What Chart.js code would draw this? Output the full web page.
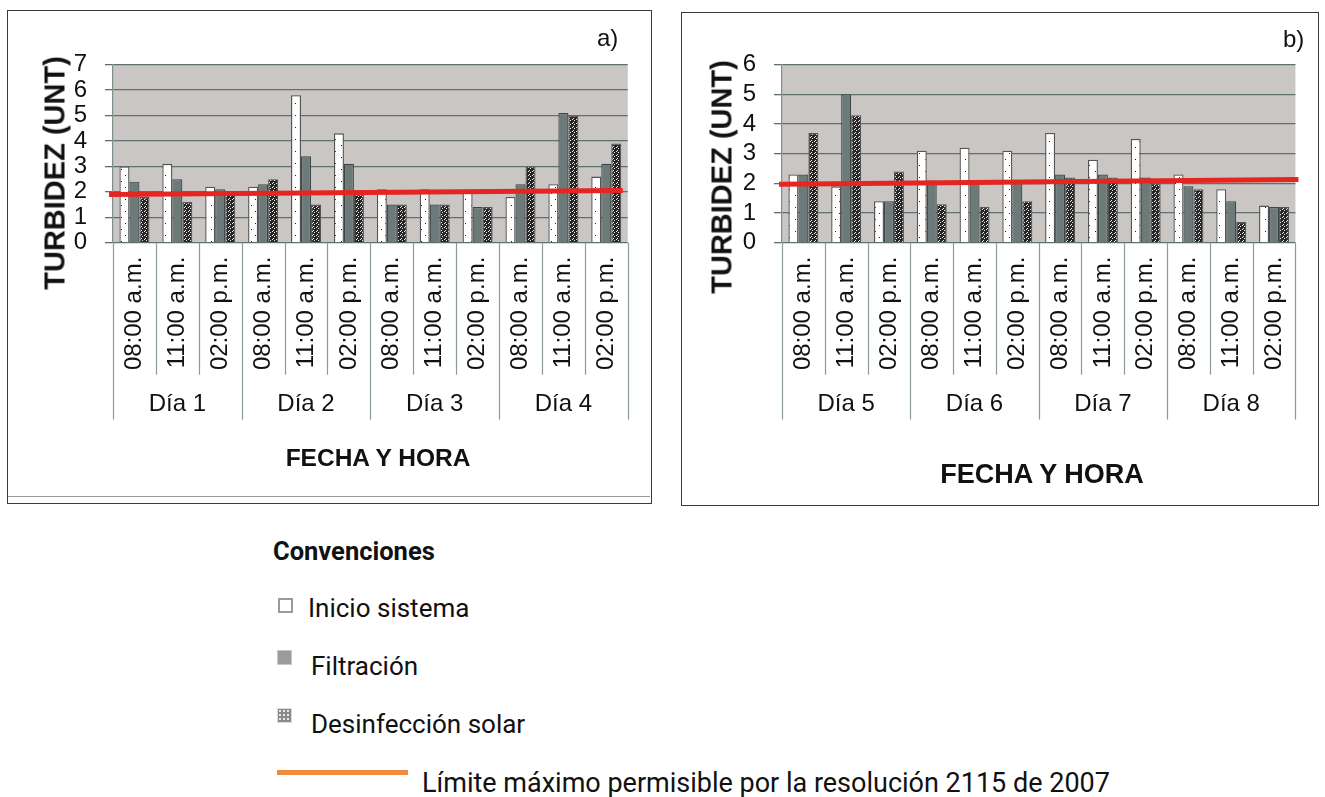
<!DOCTYPE html>
<html><head><meta charset="utf-8">
<script src="https://cdn.jsdelivr.net/npm/chart.js@4.4.0/dist/chart.umd.min.js"></script>
<style>
body{margin:0;background:#fff;}
#wrap{position:relative;width:1325px;height:797px;overflow:hidden;font-family:"Liberation Sans",Arial,sans-serif;color:#111;}
.box{position:absolute;border:1.5px solid #3a3a3a;box-sizing:border-box;}
.abs{position:absolute;white-space:nowrap;}
.ytitle{position:absolute;white-space:nowrap;font-weight:bold;font-size:29px;transform:translate(-50%,-50%) rotate(-90deg);line-height:1;}
.xtitle{position:absolute;white-space:nowrap;font-weight:bold;transform:translate(-50%,-50%);line-height:1;}
.leg{position:absolute;white-space:nowrap;font-family:Roboto,"Noto Sans",sans-serif;font-size:26px;line-height:30px;color:#111;}
canvas{position:absolute;}
</style></head><body>
<div id="wrap">
  <div class="box" style="left:7px;top:10px;width:645px;height:494px;"></div>
  <div class="abs" style="left:8px;top:496px;width:642px;height:1px;background:#9a9a9a;"></div>
  <div class="box" style="left:681px;top:12px;width:638px;height:494px;"></div>
  <canvas id="ca" width="642" height="485" style="left:8px;top:11px;"></canvas>
  <canvas id="cb" width="635" height="491" style="left:682px;top:13px;"></canvas>
  <div class="abs" style="left:597px;top:24px;font-size:24px;">a)</div>
  <div class="abs" style="left:1283px;top:25px;font-size:24px;">b)</div>
  <div class="ytitle" style="left:55px;top:173px;">TURBIDEZ (UNT)</div>
  <div class="ytitle" style="left:722px;top:177px;">TURBIDEZ (UNT)</div>
  <div class="xtitle" style="left:378px;top:458px;font-size:24.5px;">FECHA Y HORA</div>
  <div class="xtitle" style="left:1042px;top:474px;font-size:27px;">FECHA Y HORA</div>

  <div class="leg" style="left:273px;top:536px;font-weight:700;font-size:25.5px;">Convenciones</div>
  <div class="abs" style="left:278px;top:598px;width:11px;height:11px;border:2px solid #9a9a9a;background:#fff;"></div>
  <div class="leg" style="left:308px;top:593px;">Inicio sistema</div>
  <div class="abs" style="left:277px;top:650px;width:13px;height:13px;border:1px solid #c8c8c8;background:#9b9b9b;"></div>
  <div class="leg" style="left:311px;top:651px;">Filtración</div>
  <div class="abs" style="left:277px;top:708px;width:13px;height:13px;border:1px solid #ddd;background-color:#8a8a8a;background-image:radial-gradient(#e8e8e8 0.8px,transparent 1px);background-size:4px 4px;"></div>
  <div class="leg" style="left:311px;top:709px;">Desinfección solar</div>
  <div class="abs" style="left:277px;top:770px;width:131px;height:5px;background:#F08A3C;"></div>
  <div class="leg" style="left:422px;top:768px;font-size:27px;">Límite máximo permisible por la resolución 2115 de 2007</div>
</div>
<script>
// ---- data ----
const hours = ['08:00 a.m.', '11:00 a.m.', '02:00 p.m.'];
const daysA = ['Día 1', 'Día 2', 'Día 3', 'Día 4'];
const daysB = ['Día 5', 'Día 6', 'Día 7', 'Día 8'];
const yTicksA = [0, 1, 2, 3, 4, 5, 6, 7];
const yTicksB = [0, 1, 2, 3, 4, 5, 6];

const inicioA = [3.0, 3.1, 2.2, 2.2, 5.8, 4.3, 2.1, 2.1, 2.0, 1.8, 2.3, 2.6];
const filtA   = [2.4, 2.5, 2.1, 2.3, 3.4, 3.1, 1.5, 1.5, 1.4, 2.3, 5.1, 3.1];
const desinfA = [1.8, 1.6, 1.9, 2.5, 1.5, 1.9, 1.5, 1.5, 1.4, 3.0, 5.0, 3.9];
const limitA  = [1.9, 2.05];   // limit line: value at left edge, value at right edge

const inicioB = [2.3, 1.9, 1.4, 3.1, 3.2, 3.1, 3.7, 2.8, 3.5, 2.3, 1.8, 1.25];
const filtB   = [2.3, 5.0, 1.4, 2.1, 2.1, 2.1, 2.3, 2.3, 2.2, 1.9, 1.4, 1.2];
const desinfB = [3.7, 4.3, 2.4, 1.3, 1.2, 1.4, 2.2, 2.2, 2.0, 1.8, 0.7, 1.2];
const limitB  = [1.97, 2.13];

const FONT = '"Liberation Sans", Arial, sans-serif';

function makePattern(ctx, w, h, bg, fg, pts) {
  const c = document.createElement('canvas');
  c.width = w; c.height = h;
  const g = c.getContext('2d');
  g.fillStyle = bg; g.fillRect(0, 0, w, h);
  g.fillStyle = fg;
  pts.forEach(p => g.fillRect(p[0], p[1], 1, 1));
  return ctx.createPattern(c, 'repeat');
}

const bgPlugin = {
  id: 'plotBg',
  beforeDraw(chart) {
    const { ctx, chartArea: a } = chart;
    ctx.save();
    ctx.fillStyle = '#C9C6C3';
    ctx.fillRect(a.left, a.top, a.right - a.left, a.bottom - a.top);
    ctx.restore();
  }
};

const limitPlugin = {
  id: 'limitLine',
  afterDatasetsDraw(chart, args, opts) {
    const { ctx, chartArea: a } = chart;
    const y = chart.scales.y;
    ctx.save();
    ctx.strokeStyle = opts.color;
    ctx.lineWidth = opts.width;
    ctx.beginPath();
    ctx.moveTo(a.left - opts.ext, y.getPixelForValue(opts.values[0]));
    ctx.lineTo(a.right - opts.ext2, y.getPixelForValue(opts.values[1]));
    ctx.stroke();
    ctx.restore();
  }
};

const groupPlugin = {
  id: 'groups',
  afterDraw(chart, args, opts) {
    const { ctx, chartArea: a } = chart;
    const x = chart.scales.x;
    const n = chart.data.labels.length;
    ctx.save();
    ctx.strokeStyle = '#8c9a9a';
    ctx.lineWidth = 1.2;
    for (let i = 0; i <= n; i++) {
      let px;
      if (i === 0) px = x.left;
      else if (i === n) px = x.right;
      else px = (x.getPixelForValue(i - 1) + x.getPixelForValue(i)) / 2;
      const len = (i % hours.length === 0) ? opts.long : opts.short;
      ctx.beginPath();
      ctx.moveTo(Math.round(px) + 0.5, a.bottom);
      ctx.lineTo(Math.round(px) + 0.5, a.bottom + len);
      ctx.stroke();
    }
    ctx.fillStyle = '#111';
    ctx.font = opts.fontSize + 'px ' + FONT;
    ctx.textAlign = 'center';
    ctx.textBaseline = 'middle';
    opts.names.forEach((name, g) => {
      const cx = x.getPixelForValue(g * hours.length + 1);
      ctx.fillText(name, cx, a.bottom + opts.labelY);
    });
    ctx.restore();
  }
};

function makeChart(id, days, inicio, filt, desinf, limit, yTicks, geo) {
  const canvas = document.getElementById(id);
  const ctx = canvas.getContext('2d');
  const patInicio = makePattern(ctx, 10, 12, '#ffffff', '#222222', [[3, 2], [7, 8]]);
  const patDesinf = makePattern(ctx, 4, 4, '#262626', '#eeeeee', [[0, 0], [2, 1], [1, 3]]);
  const labels = days.flatMap(() => hours);
  const barCommon = { categoryPercentage: 0.7, barPercentage: 1.0 };
  return new Chart(ctx, {
    type: 'bar',
    data: {
      labels: labels,
      datasets: [
        Object.assign({ label: 'Inicio sistema', data: inicio, backgroundColor: patInicio, borderColor: '#555', borderWidth: 1.3 }, barCommon),
        Object.assign({ label: 'Filtración', data: filt, backgroundColor: '#6D7A7A', borderColor: '#3d4545', borderWidth: 1.2 }, barCommon),
        Object.assign({ label: 'Desinfección solar', data: desinf, backgroundColor: patDesinf, borderColor: '#555', borderWidth: 1.2 }, barCommon)
      ]
    },
    options: {
      responsive: false,
      animation: false,
      devicePixelRatio: 1,
      layout: { padding: { top: geo.top, right: geo.right, left: 0, bottom: 0 } },
      plugins: {
        legend: { display: false },
        tooltip: { enabled: false },
        groups: { names: days, short: geo.short, long: geo.long, labelY: geo.labelY, fontSize: 24 },
        limitLine: { values: limit, color: '#E62420', width: 5, ext: geo.ext, ext2: geo.ext2 }
      },
      scales: {
        x: {
          type: 'category',
          offset: true,
          grid: { display: false, drawTicks: false, offset: true },
          border: { display: false },
          ticks: { autoSkip: false, minRotation: 90, maxRotation: 90, padding: geo.xpad, color: '#111',
                   font: { family: FONT, size: 24 } },
          afterFit(s) { s.height = geo.xh; }
        },
        y: {
          min: yTicks[0], max: yTicks[yTicks.length - 1],
          afterBuildTicks(s) { s.ticks = yTicks.map(v => ({ value: v })); },
          grid: { color: '#5F7070', lineWidth: 1.3, tickLength: 8 },
          border: { display: true, color: '#7f8f8f', width: 1.2 },
          ticks: { autoSkip: false, padding: geo.ypad, color: '#111', font: { family: FONT, size: 24 } },
          afterFit(s) { s.width = geo.yw; }
        }
      }
    },
    plugins: [bgPlugin, groupPlugin, limitPlugin]
  });
}

makeChart('ca', daysA, inicioA, filtA, desinfA, limitA, yTicksA,
  { top: 53.7, right: 22, yw: 105, xh: 253.3, xpad: 14, ypad: 18, short: 132, long: 177, labelY: 162, ext: 4, ext2: 5 });
makeChart('cb', daysB, inicioB, filtB, desinfB, limitB, yTicksB,
  { top: 51.7, right: 4, yw: 100, xh: 261.3, xpad: 14, ypad: 18, short: 132, long: 177, labelY: 162, ext: 3, ext2: -3 });
</script>
</body></html>
